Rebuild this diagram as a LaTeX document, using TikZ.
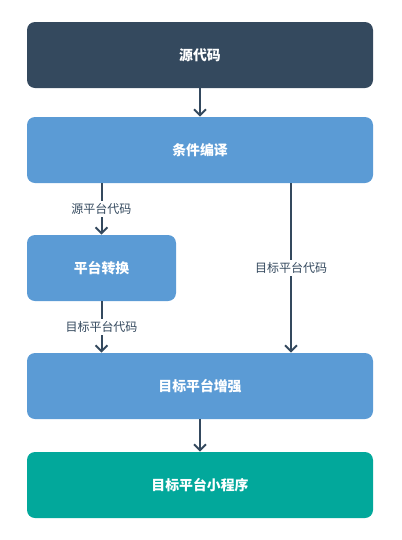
\documentclass[tikz,border=0pt]{standalone}
\usepackage{fontspec}
\setmainfont{Noto Sans CJK SC}
\usetikzlibrary{arrows.meta}
\definecolor{navy}{HTML}{34495E}
\definecolor{bluebox}{HTML}{5B9BD5}
\definecolor{tealbox}{HTML}{02A89B}
\tikzset{
  box/.style={rectangle, rounded corners=6pt, draw=none, text=white,
    font=\fontsize{10.4}{12}\selectfont\bfseries, minimum height=66*0.75pt, inner sep=0pt},
  widebox/.style={box, minimum width=346*0.75pt},
  conn/.style={draw=navy, line width=1.5pt, -{Straight Barb[length=4.5pt,width=9pt,line width=1.5pt]}},
  lab/.style={fill=white, text=navy, font=\fontsize{9}{10}\selectfont, inner sep=2pt}
}
\begin{document}
\begin{tikzpicture}[x=0.75pt,y=-0.75pt]
\useasboundingbox (0,0) rectangle (402,540);
\node[widebox, fill=navy] (src) at (200,55) {源代码};
\node[widebox, fill=bluebox] (cond) at (200,150) {条件编译};
\node[box, fill=bluebox, minimum width=149*0.75pt] (conv) at (101.5,268) {平台转换};
\node[widebox, fill=bluebox] (enh) at (200,386) {目标平台增强};
\node[widebox, fill=tealbox] (mini) at (200,485) {目标平台小程序};
\coordinate (rx) at (291,0);
\draw[conn] (src) -- (cond);
\draw[conn] (cond.south -| conv.north) -- node[lab] {源平台代码} (conv.north);
\draw[conn] (conv) -- node[lab] {目标平台代码} (enh.north -| conv.south);
\draw[conn] (cond.south -| rx) -- node[lab] {目标平台代码} (enh.north -| rx);
\draw[conn] (enh) -- (mini);
\end{tikzpicture}
\end{document}
